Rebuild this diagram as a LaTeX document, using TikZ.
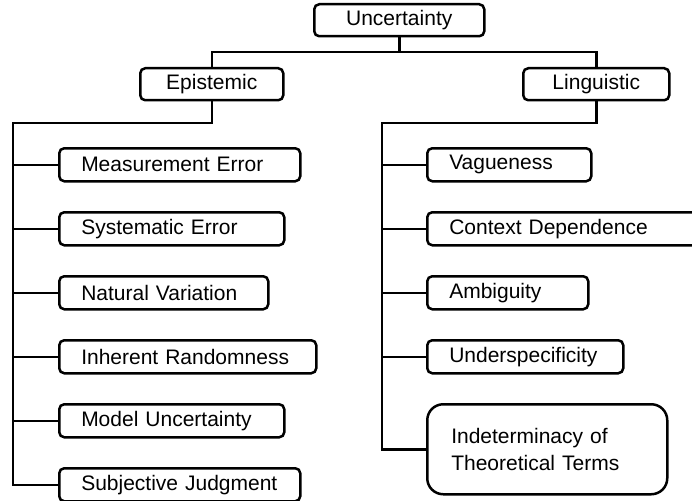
\documentclass[tikz,border=0pt]{standalone}
\usepackage{fontspec}
\setmainfont{Liberation Sans}
\begin{document}
\begin{tikzpicture}[x=1pt,y=-1pt,
  txt/.style={font=\fontsize{21}{27}\selectfont},
  topbox/.style={txt,draw,line width=2.5pt,rounded corners=5pt,anchor=north west,inner sep=0pt,minimum height=32pt},
  leaf/.style={txt,draw,line width=2.5pt,rounded corners=5pt,anchor=north west,inner ysep=0pt,inner xsep=22pt,minimum height=33pt,align=left,text width=#1-44pt},
  bigleaf/.style={txt,draw,line width=2.5pt,rounded corners=16pt,anchor=north west,inner ysep=0pt,inner xsep=24pt,minimum height=90pt,align=left,text width=#1-48pt},
  conn/.style={line width=2.5pt}]
\useasboundingbox (0,0) rectangle (692,500);
\clip (0,0) rectangle (692,500);
% top level
\node[topbox,minimum width=170pt] (U) at (313,3) {Uncertainty};
\node[topbox,minimum width=143pt] (E) at (139,67) {Epistemic};
\node[topbox,minimum width=146pt] (L) at (522,67) {Linguistic};
\coordinate (j) at (0,52);
\coordinate (e) at (13,123);
\coordinate (l) at (382,123);
% epistemic leaves
\node[leaf=241pt] (me) at (58,147) {Measurement Error};
\node[leaf=225pt] (se) at (58,211) {Systematic Error};
\node[leaf=209pt] (nv) at (58,275) {Natural Variation};
\node[leaf=257pt] (ir) at (58,339) {Inherent Randomness};
\node[leaf=225pt] (mu) at (58,403) {Model Uncertainty};
\node[leaf=241pt] (sj) at (58,467) {Subjective Judgment};
% linguistic leaves
\node[leaf=164pt] (va) at (426,147) {Vagueness};
\node[leaf=280pt] (cd) at (426,211) {Context Dependence};
\node[leaf=161pt] (am) at (426,275) {Ambiguity};
\node[leaf=196pt] (us) at (426,339) {Underspecificity};
\node[bigleaf=240pt] (it) at (426,403) {Indeterminacy of\\Theoretical Terms};
% connectors
\draw[conn] (U.south) -- (U.south |- j);
\draw[conn] (E.north) -- (E.north |- j) -- (L.north |- j) -- (L.north);
\draw[conn] (E.south) -- (E.south |- e) -- (e) -- (e |- sj.west) -- (sj.west);
\foreach \n in {me,se,nv,ir,mu} \draw[conn] (e |- \n.west) -- (\n.west);
\draw[conn] (L.south) -- (L.south |- l) -- (l) -- (l |- it.west) -- (it.west);
\foreach \n in {va,cd,am,us} \draw[conn] (l |- \n.west) -- (\n.west);
\end{tikzpicture}
\end{document}
